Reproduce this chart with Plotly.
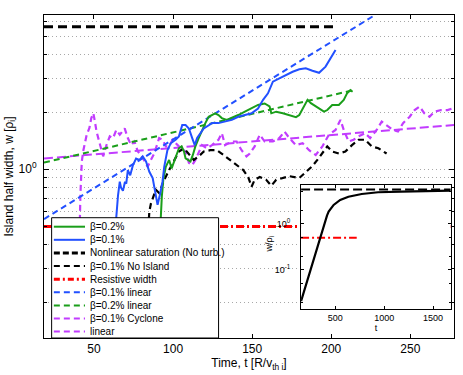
import plotly.graph_objects as go

# ---- main panel data: t [R/v_thi], island half width w [rho_i] ----
t_b02 = [92.0, 92.25, 92.9, 93.8, 95.4, 97.5, 99.1, 100.6, 102.1, 103.7, 105.4, 106.9, 107.9, 109.6, 111.0,
         112.5, 114.1, 116.2, 118.3, 120.4, 122.5, 124.6, 126.6, 128.7, 130.8, 133.9, 137.1, 141.2, 145.4, 149.6,
         153.7, 157.9, 161.0, 162.1, 165.2, 169.4, 173.5, 177.7, 179.8, 182.9, 185.0, 187.1, 190.2, 193.3, 195.4,
         197.5, 200.6, 204.8, 207.9, 210.0, 212.1, 213.5]
w_b02 = [0.2, 0.56, 0.72, 0.88, 1.03, 1.12, 1.01, 1.10, 1.19, 1.29, 1.32, 1.24, 1.14, 1.12, 1.10,
         1.19, 1.32, 1.46, 1.61, 1.75, 1.89, 1.93, 1.97, 1.93, 1.86, 1.82, 1.86, 1.93, 2.01, 2.09,
         2.18, 2.22, 2.14, 1.97, 2.01, 1.97, 1.93, 1.88, 1.93, 2.18, 2.32, 2.23, 2.14, 2.05, 2.01,
         2.05, 2.18, 2.18, 2.32, 2.51, 2.61, 2.56]

t_b01 = [63.7, 64.1, 65.2, 66.3, 67.1, 68.3, 69.6, 70.4, 71.4, 72.9, 74.6, 76.6, 78.7, 80.8, 82.9,
         85.0, 87.1, 88.7, 90.2, 91.6, 93.3, 94.4, 96.4, 98.5, 101.6, 103.7, 105.8, 107.9, 110.0, 112.1,
         113.7, 115.2, 117.3, 119.4, 121.4, 124.6, 128.7, 132.9, 137.1, 141.2, 145.4, 149.6, 153.7, 156.9, 160.0,
         163.1, 167.2, 171.4, 175.6, 179.8, 183.9, 188.1, 192.3, 196.4, 199.6, 202.7]
w_b01 = [0.33, 0.56, 0.73, 0.86, 0.80, 0.77, 0.86, 0.84, 0.99, 0.93, 1.05, 1.14, 1.12, 1.17, 1.10,
         0.97, 0.90, 0.76, 0.65, 0.73, 0.86, 1.03, 1.26, 1.37, 1.43, 1.49, 1.71, 1.71, 1.64, 1.46,
         1.34, 1.46, 1.55, 1.64, 1.68, 1.75, 1.75, 1.78, 1.82, 1.89, 1.93, 1.97, 2.09, 2.32, 2.51,
         2.89, 3.01, 3.14, 3.26, 3.36, 3.40, 3.30, 3.22, 3.47, 3.84, 4.25]

t_sat = [18.4, 203.7]
w_sat = [5.63, 5.63]

t_noisl = [83.9, 85.0, 86.0, 88.1, 89.1, 91.2, 94.4, 97.5, 100.6, 103.7, 106.9, 110.0, 113.1, 116.2, 119.4,
           123.5, 127.7, 131.9, 136.0, 140.2, 144.4, 147.5, 149.6, 151.6, 154.8, 158.9, 162.1, 165.2, 169.4, 173.5,
           179.8, 184.0, 188.1, 191.2, 194.4, 197.5, 200.6, 204.8, 208.9, 213.1, 217.3, 221.4, 225.6, 229.8, 235.0]
w_noisl = [0.43, 0.60, 0.66, 0.73, 0.78, 0.75, 0.88, 0.99, 1.10, 1.24, 1.29, 1.21, 1.12, 1.17, 1.24,
           1.26, 1.26, 1.19, 1.12, 1.05, 0.99, 0.91, 0.81, 0.88, 0.91, 0.88, 0.82, 0.88, 0.90, 0.92,
           0.90, 0.97, 1.04, 1.12, 1.21, 1.32, 1.24, 1.21, 1.24, 1.34, 1.43, 1.43, 1.32, 1.29, 1.21]

t_res = [18.4, 277.6]
w_res = [0.5, 0.5]

t_b01_lin = [18.4, 227.7]
w_b01_lin = [0.547, 6.49]

t_b02_lin = [18.4, 214.1]
w_b02_lin = [1.084, 2.61]

t_cyc = [40.8, 41.0, 41.4, 42.3, 43.3, 45.4, 47.1, 48.3, 49.6, 50.6, 51.6, 53.3, 54.8, 55.8, 57.9,
         60.0, 62.1, 64.1, 66.3, 69.4, 71.4, 73.5, 75.6, 77.7, 79.8, 81.9, 83.9, 86.0, 88.1, 91.2,
         93.3, 95.4, 97.5, 99.6, 103.7, 107.9, 110.0, 112.1, 114.1, 118.3, 121.4, 124.6, 128.7, 130.8, 132.9,
         137.1, 140.2, 143.3, 146.4, 148.5, 151.6, 154.8, 157.9, 161.0, 163.1, 167.2, 170.4, 173.5, 177.7, 181.9,
         186.0, 190.2, 194.4, 198.5, 202.7, 205.8, 207.9, 211.0, 214.1, 217.3, 221.4, 224.6, 228.7, 231.9, 235.0,
         239.1, 242.2, 245.4, 249.6, 252.7, 255.8, 258.9, 262.1, 265.2, 269.4, 273.5, 276.6]
w_cyc = [0.42, 0.51, 0.73, 1.10, 1.26, 1.52, 1.65, 1.86, 1.97, 1.78, 1.58, 1.40, 1.26, 1.17, 1.34,
         1.49, 1.46, 1.61, 1.52, 1.64, 1.46, 1.34, 1.40, 1.24, 1.19, 1.10, 1.03, 1.12, 1.21, 1.46,
         1.43, 1.32, 1.32, 1.43, 1.32, 1.24, 1.08, 1.05, 1.12, 1.34, 1.29, 1.34, 1.43, 1.55, 1.34,
         1.40, 1.40, 1.26, 1.17, 1.21, 1.32, 1.52, 1.40, 1.40, 1.40, 1.46, 1.58, 1.46, 1.34, 1.37,
         1.26, 1.19, 1.32, 1.52, 1.61, 1.82, 1.61, 1.40, 1.43, 1.49, 1.55, 1.46, 1.61, 1.78, 1.71,
         1.61, 1.58, 1.75, 1.89, 2.05, 2.14, 1.97, 1.89, 2.01, 2.05, 2.05, 2.09]

t_cyc_lin = [18.4, 277.6]
w_cyc_lin = [1.14, 1.71]

# ---- inset data (no turbulence run) ----
t_in = [150, 400, 415, 432, 483, 550, 634, 770, 937, 1174, 1443, 1680]
w_in = [0.021, 1.25, 1.52, 1.85, 2.59, 3.33, 3.92, 4.49, 4.89, 5.04, 5.22, 5.30]
t_in_sat = [150, 1680]
w_in_sat = [5.6, 5.6]
t_in_res = [150, 719]
w_in_res = [0.5, 0.5]

main_ticks = [50, 100, 150, 200, 250]
inset_ticks = [500, 1000, 1500]

GREEN = "#1a9e1a"
BLUE = "#2250ff"
MAGENTA = "#c23cff"
RED = "#ff0000"
GRID = "#a8a8a8"
FONT = "Liberation Sans, Arial, sans-serif"

fig = go.Figure()

def add_line(t, w, color, width, dash="solid", xa="x", ya="y"):
    fig.add_trace(go.Scatter(x=t, y=w, mode="lines", xaxis=xa, yaxis=ya, showlegend=False,
                             line=dict(color=color, width=width, dash=dash)))

# drawing order roughly as in the original
add_line(t_res, w_res, RED, 3, "8px,3px,2px,3px")
add_line(t_cyc_lin, w_cyc_lin, MAGENTA, 2, "9px,4px")
add_line(t_cyc, w_cyc, MAGENTA, 2.2, "6px,4px")
add_line(t_b02_lin, w_b02_lin, GREEN, 2, "6px,4px")
add_line(t_b01_lin, w_b01_lin, BLUE, 2, "6px,4px")
add_line(t_noisl, w_noisl, "black", 2.2, "6px,4px")
add_line(t_b02, w_b02, GREEN, 2)
add_line(t_b01, w_b01, BLUE, 2)
add_line(t_sat, w_sat, "black", 3, "9px,5px")

# inset
add_line(t_in_res, w_in_res, RED, 2, "8px,3px,2px,3px", "x2", "y2")
add_line(t_in_sat, w_in_sat, "black", 2, "9px,4px", "x2", "y2")
add_line(t_in, w_in, "black", 2.2, "solid", "x2", "y2")

# manual legend (MATLAB style compact box)
legend_items = [
    ("β=0.2%", GREEN, "solid", 2),
    ("β=0.1%", BLUE, "solid", 2),
    ("Nonlinear saturation (No turb.)", "black", "6px,3px", 3),
    ("β=0.1% No Island", "black", "6px,4px", 2),
    ("Resistive width", RED, "6px,3px,2px,3px", 3),
    ("β=0.1% linear", BLUE, "6px,4px", 2),
    ("β=0.2% linear", GREEN, "6px,4px", 2),
    ("β=0.1% Cyclone", MAGENTA, "6px,4px", 2),
    ("linear", MAGENTA, "6px,4px", 2),
]
shapes = [dict(type="rect", xref="paper", yref="paper", x0=0.0186, x1=0.4258, y0=0.0, y1=0.3724,
               fillcolor="white", line=dict(color="black", width=1), layer="above")]
annotations = []
row_top, row_step = 0.3446, 0.0406
for i, (label, col, dash, wd) in enumerate(legend_items):
    yy = row_top - i * row_step
    shapes.append(dict(type="line", xref="paper", yref="paper", x0=0.024, x1=0.1, y0=yy, y1=yy,
                       line=dict(color=col, width=wd, dash=dash), layer="above"))
    annotations.append(dict(text=label, xref="paper", yref="paper", x=0.108, y=yy, xanchor="left",
                            yanchor="middle", showarrow=False, font=dict(size=10, color="black", family=FONT)))

# inset y label, placed by hand a little away from the tick labels
annotations.append(dict(text="w/ρ<sub>i</sub>", xref="paper", yref="paper", x=0.549, y=0.29,
                        textangle=-90, showarrow=False, xanchor="center", yanchor="middle",
                        font=dict(size=9, color="black", family=FONT)))

axis_common = dict(showline=True, linecolor="black", linewidth=1, mirror="ticks", ticks="inside",
                   tickcolor="black", zeroline=False)

fig.update_layout(
    width=463, height=375,
    margin=dict(l=40, r=8, t=15, b=37),
    paper_bgcolor="white", plot_bgcolor="white",
    font=dict(family=FONT, size=12, color="black"),
    showlegend=False,
    shapes=shapes,
    annotations=annotations,
    xaxis=dict(range=[18.4, 277.6], tickvals=main_ticks, ticklen=4, showgrid=False,
               title=dict(text="Time, t [R/v<sub>th i</sub>]", standoff=2, font=dict(size=12)),
               tickfont=dict(size=12), **axis_common),
    yaxis=dict(type="log", range=[-0.888, 0.812], tickvals=[1], ticktext=["10<sup>0</sup>"], ticklen=5,
               showgrid=True, gridcolor=GRID, griddash="1px,3px", gridwidth=1,
               minor=dict(tickvals=[0.2, 0.3, 0.4, 0.5, 0.6, 0.7, 0.8, 0.9, 2, 3, 4, 5, 6],
                          ticks="inside", ticklen=3, tickcolor="black", showgrid=True,
                          gridcolor=GRID, griddash="1px,3px", gridwidth=1),
               ticklabelstandoff=4, tickfont=dict(size=12),
               title=dict(text="Island half width, w [ρ<sub>i</sub>]", standoff=2, font=dict(size=12)),
               **axis_common),
    xaxis2=dict(domain=[0.627, 0.992], anchor="y2", range=[150, 1680], tickvals=inset_ticks, ticklen=3,
                showgrid=False, tickfont=dict(size=9), title=dict(text="t", standoff=0, font=dict(size=9)),
                **axis_common),
    yaxis2=dict(domain=[0.0898, 0.4746], anchor="x2", type="log", range=[-1.85, 0.854],
                tickvals=[0.1, 1], ticktext=["10<sup>-1</sup>", "10<sup>0</sup>"], ticklen=3,
                minor=dict(tickvals=[0.02, 0.05, 0.2, 0.5, 2, 5], ticks="inside", ticklen=2, tickcolor="black"),
                showgrid=False, tickfont=dict(size=9), ticklabelstandoff=8,
                **axis_common),
)

fig.write_html("out.html", config={"displayModeBar": False},
               post_script="document.body.style.margin='0';")
